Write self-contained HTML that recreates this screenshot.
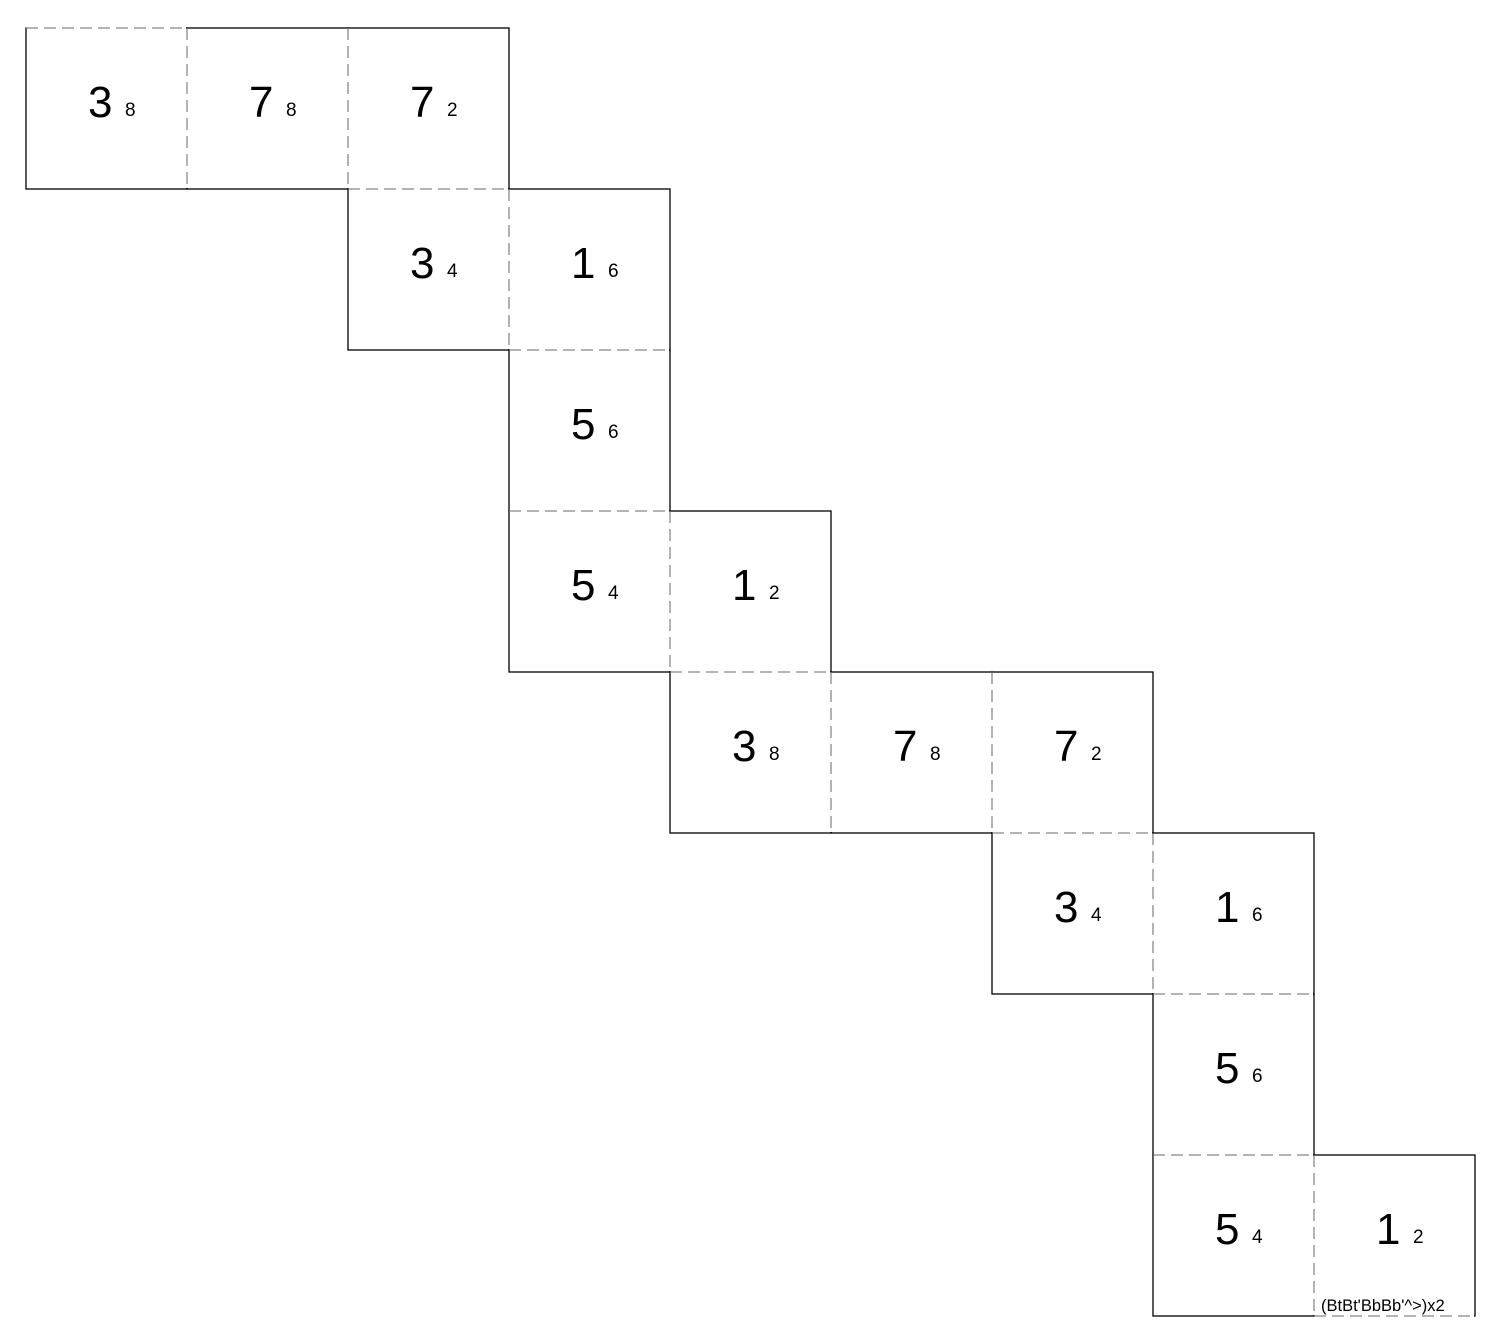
<!DOCTYPE html>
<html><head><style>
html,body{margin:0;padding:0;background:#fff;}
svg{display:block;}
text{font-family:"Liberation Sans",Arial,sans-serif;fill:#000;}
.b{font-size:44px;}
.s{font-size:19px;}
</style></head><body>
<svg width="1500" height="1343" viewBox="0 0 1500 1343" xmlns="http://www.w3.org/2000/svg">
<g fill="none" stroke="#000" stroke-width="1.3">
<rect x="26" y="28" width="161" height="161"/>
<rect x="187" y="28" width="161" height="161"/>
<rect x="348" y="28" width="161" height="161"/>
<rect x="348" y="189" width="161" height="161"/>
<rect x="509" y="189" width="161" height="161"/>
<rect x="509" y="350" width="161" height="161"/>
<rect x="509" y="511" width="161" height="161"/>
<rect x="670" y="511" width="161" height="161"/>
<rect x="670" y="672" width="161" height="161"/>
<rect x="831" y="672" width="161" height="161"/>
<rect x="992" y="672" width="161" height="161"/>
<rect x="992" y="833" width="161" height="161"/>
<rect x="1153" y="833" width="161" height="161"/>
<rect x="1153" y="994" width="161" height="161"/>
<rect x="1153" y="1155" width="161" height="161"/>
<rect x="1314" y="1155" width="161" height="161"/>
</g>
<g stroke="#fff" stroke-width="3">
<line x1="187" y1="29" x2="187" y2="188"/>
<line x1="348" y1="29" x2="348" y2="188"/>
<line x1="509" y1="190" x2="509" y2="349"/>
<line x1="670" y1="512" x2="670" y2="671"/>
<line x1="831" y1="673" x2="831" y2="832"/>
<line x1="992" y1="673" x2="992" y2="832"/>
<line x1="1153" y1="834" x2="1153" y2="993"/>
<line x1="1314" y1="1156" x2="1314" y2="1315"/>
<line x1="349" y1="189" x2="508" y2="189"/>
<line x1="510" y1="350" x2="669" y2="350"/>
<line x1="510" y1="511" x2="669" y2="511"/>
<line x1="671" y1="672" x2="830" y2="672"/>
<line x1="993" y1="833" x2="1152" y2="833"/>
<line x1="1154" y1="994" x2="1313" y2="994"/>
<line x1="1154" y1="1155" x2="1313" y2="1155"/>
<line x1="27" y1="28" x2="186" y2="28"/>
<line x1="1315" y1="1316" x2="1474" y2="1316"/>
</g>
<g stroke="#888" stroke-width="1.3" stroke-dasharray="12,6">
<line x1="187" y1="28" x2="187" y2="189"/>
<line x1="348" y1="28" x2="348" y2="189"/>
<line x1="509" y1="189" x2="509" y2="350"/>
<line x1="670" y1="511" x2="670" y2="672"/>
<line x1="831" y1="672" x2="831" y2="833"/>
<line x1="992" y1="672" x2="992" y2="833"/>
<line x1="1153" y1="833" x2="1153" y2="994"/>
<line x1="1314" y1="1155" x2="1314" y2="1316"/>
<line x1="348" y1="189" x2="509" y2="189"/>
<line x1="509" y1="350" x2="670" y2="350"/>
<line x1="509" y1="511" x2="670" y2="511"/>
<line x1="670" y1="672" x2="831" y2="672"/>
<line x1="992" y1="833" x2="1153" y2="833"/>
<line x1="1153" y1="994" x2="1314" y2="994"/>
<line x1="1153" y1="1155" x2="1314" y2="1155"/>
<line x1="26" y1="28" x2="187" y2="28"/>
<line x1="1314" y1="1316" x2="1475" y2="1316"/>
</g>
<g>
<text class="b" x="88" y="117">3</text><text class="s" x="125" y="116">8</text>
<text class="b" x="249" y="117">7</text><text class="s" x="286" y="116">8</text>
<text class="b" x="410" y="117">7</text><text class="s" x="447" y="116">2</text>
<text class="b" x="410" y="278">3</text><text class="s" x="447" y="277">4</text>
<text class="b" x="571" y="278">1</text><text class="s" x="608" y="277">6</text>
<text class="b" x="571" y="439">5</text><text class="s" x="608" y="438">6</text>
<text class="b" x="571" y="600">5</text><text class="s" x="608" y="599">4</text>
<text class="b" x="732" y="600">1</text><text class="s" x="769" y="599">2</text>
<text class="b" x="732" y="761">3</text><text class="s" x="769" y="760">8</text>
<text class="b" x="893" y="761">7</text><text class="s" x="930" y="760">8</text>
<text class="b" x="1054" y="761">7</text><text class="s" x="1091" y="760">2</text>
<text class="b" x="1054" y="922">3</text><text class="s" x="1091" y="921">4</text>
<text class="b" x="1215" y="922">1</text><text class="s" x="1252" y="921">6</text>
<text class="b" x="1215" y="1083">5</text><text class="s" x="1252" y="1082">6</text>
<text class="b" x="1215" y="1244">5</text><text class="s" x="1252" y="1243">4</text>
<text class="b" x="1376" y="1244">1</text><text class="s" x="1413" y="1243">2</text>
<text x="1321" y="1311" style="font-size:16.5px">(BtBt'BbBb'^&gt;)x2</text>
</g>
</svg>
</body></html>
